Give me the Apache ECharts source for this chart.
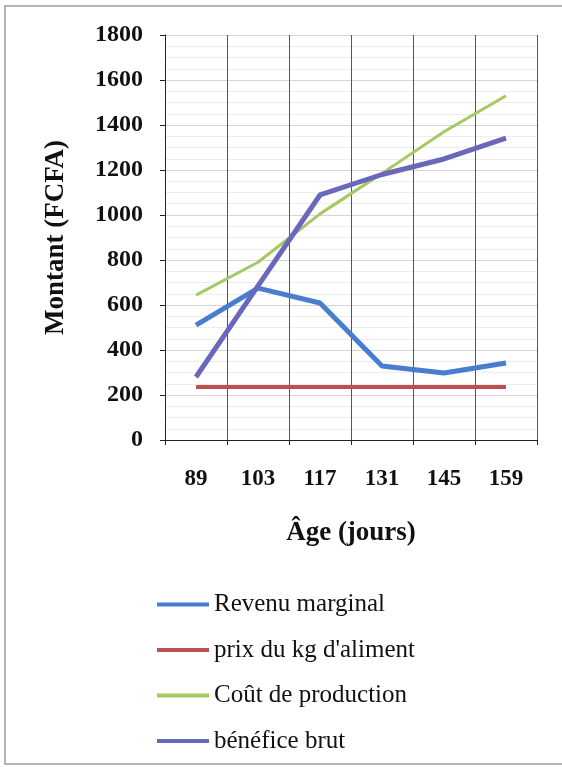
<!DOCTYPE html>
<html>
<head>
<meta charset="utf-8">
<script src="https://cdn.jsdelivr.net/npm/echarts@6/dist/echarts.min.js"></script>
<style>
  html, body { margin: 0; padding: 0; background: #fff; }
  #chart { width: 562px; height: 767px; }
</style>
</head>
<body>
<div id="chart"></div>
<script>
const ages = ["89", "103", "117", "131", "145", "159"];
const revenuMarginal = [511, 675, 609, 329, 298, 342];
const prixAliment = [236, 236, 236, 236, 236, 236];
const coutProduction = [644, 790, 1005, 1185, 1370, 1530];
const beneficeBrut = [280, 685, 1089, 1180, 1249, 1342];

const serif = "Liberation Serif";

const chart = echarts.init(document.getElementById("chart"));

chart.setOption({
  animation: false,
  backgroundColor: "#fff",
  graphic: [
    {
      type: "rect",
      shape: { x: 5, y: 6, width: 562, height: 758 },
      style: { fill: "none", stroke: "#9a9a9a", lineWidth: 1.5 },
      silent: true,
    },
  ],
  grid: { left: 165, right: 25, top: 35, bottom: 327 },
  legend: {
    orient: "vertical",
    left: 152,
    top: 587,
    icon: "rect",
    itemWidth: 52,
    itemHeight: 4,
    itemGap: 20.5,
    textStyle: { fontFamily: serif, fontSize: 25, color: "#111", lineHeight: 24 },
    data: ["Revenu marginal", "prix du kg d'aliment", "Coût de production", "bénéfice brut"],
  },
  xAxis: {
    type: "category",
    data: ages,
    boundaryGap: true,
    axisLine: { lineStyle: { color: "#222", width: 1 } },
    axisTick: { show: true, length: 5, lineStyle: { color: "#222" } },
    axisLabel: { fontFamily: serif, fontWeight: "bold", fontSize: 23, color: "#111", margin: 28 },
    splitLine: { show: true, lineStyle: { color: "#555", width: 1 } },
    name: "Âge (jours)",
    nameLocation: "middle",
    nameGap: 80,
    nameTextStyle: { fontFamily: serif, fontWeight: "bold", fontSize: 27, color: "#111" },
  },
  yAxis: {
    type: "value",
    min: 0,
    max: 1800,
    interval: 200,
    axisLine: { show: true, lineStyle: { color: "#222", width: 1 } },
    axisTick: { show: true, length: 5, lineStyle: { color: "#222" } },
    axisLabel: {
      fontFamily: serif,
      fontWeight: "bold",
      fontSize: 24,
      color: "#111",
      margin: 22,
      formatter: (v) => String(v),
    },
    splitLine: { show: true, lineStyle: { color: "#d4d4d4", width: 1 } },
    minorTick: { show: false, splitNumber: 4 },
    minorSplitLine: { show: true, lineStyle: { color: "#ededed", width: 1 } },
    name: "Montant (FCFA)",
    nameLocation: "middle",
    nameGap: 95,
    nameTextStyle: { fontFamily: serif, fontWeight: "bold", fontSize: 27, color: "#111" },
  },
  series: [
    {
      name: "Revenu marginal",
      type: "line",
      data: revenuMarginal,
      symbol: "none",
      color: "#4a7dcf",
      lineStyle: { width: 5, color: "#4a7dcf" },
    },
    {
      name: "prix du kg d'aliment",
      type: "line",
      data: prixAliment,
      symbol: "none",
      color: "#bd4f4d",
      lineStyle: { width: 4, color: "#bd4f4d" },
    },
    {
      name: "Coût de production",
      type: "line",
      data: coutProduction,
      symbol: "none",
      color: "#a6c964",
      lineStyle: { width: 3, color: "#a6c964" },
    },
    {
      name: "bénéfice brut",
      type: "line",
      data: beneficeBrut,
      symbol: "none",
      color: "#6a68ba",
      lineStyle: { width: 5, color: "#6a68ba" },
    },
  ],
});
</script>
</body>
</html>
